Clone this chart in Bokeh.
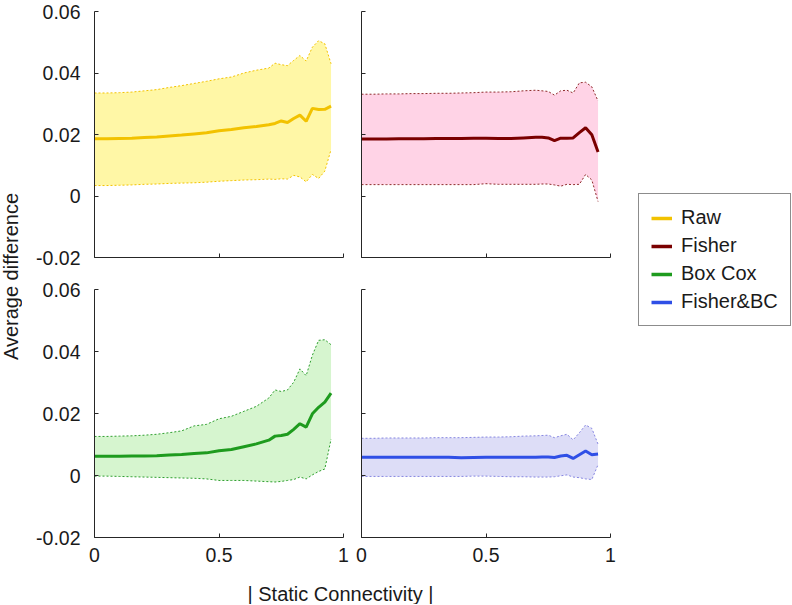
import math
from bokeh.plotting import figure
from bokeh.models import Range1d, FixedTicker, Label, Legend, LegendItem
from bokeh.layouts import row, column
from bokeh.embed import file_html
from bokeh.resources import INLINE

# ---------------- data ----------------
x = [0, 0.05, 0.1, 0.15, 0.2, 0.25, 0.3, 0.35, 0.4, 0.45, 0.5, 0.55, 0.6, 0.65,
     0.7, 0.725, 0.75, 0.775, 0.8, 0.825, 0.85, 0.875, 0.9, 0.925, 0.95]

raw_mean = [0.0186, 0.0186, 0.0187, 0.0188, 0.0190, 0.0192, 0.0195, 0.0198, 0.0202, 0.0206, 0.0212, 0.0216, 0.0222,
            0.0226, 0.0232, 0.0236, 0.0244, 0.0239, 0.0252, 0.0263, 0.0243, 0.0285, 0.0281, 0.0282, 0.0292]
raw_hi = [0.0335, 0.0335, 0.0336, 0.0338, 0.0342, 0.0346, 0.0353, 0.0359, 0.0366, 0.0373, 0.0381, 0.0387, 0.0400,
          0.0409, 0.0416, 0.0432, 0.0427, 0.0424, 0.0441, 0.0457, 0.0439, 0.0484, 0.0505, 0.0495, 0.0430]
raw_lo = [0.0034, 0.0034, 0.0035, 0.0036, 0.0038, 0.0039, 0.0041, 0.0042, 0.0043, 0.0045, 0.0048, 0.0050, 0.0052,
          0.0053, 0.0055, 0.0054, 0.0056, 0.0055, 0.0067, 0.0062, 0.0046, 0.0070, 0.0057, 0.0081, 0.0151]

fisher_mean = [0.0185, 0.0185, 0.0185, 0.0186, 0.0186, 0.0186, 0.0187, 0.0187, 0.0187, 0.0188, 0.0188, 0.0187, 0.0187,
               0.0189, 0.0191, 0.0191, 0.0189, 0.0180, 0.0188, 0.0188, 0.0189, 0.0206, 0.0222, 0.0199, 0.0143]
fisher_hi = [0.0331, 0.0331, 0.0332, 0.0332, 0.0333, 0.0333, 0.0334, 0.0334, 0.0335, 0.0336, 0.0338, 0.0338, 0.0339,
             0.0342, 0.0344, 0.0342, 0.0340, 0.0328, 0.0342, 0.0344, 0.0335, 0.0368, 0.0370, 0.0355, 0.0309]
fisher_lo = [0.0037, 0.0037, 0.0037, 0.0037, 0.0037, 0.0037, 0.0037, 0.0037, 0.0037, 0.0037, 0.0040, 0.0038, 0.0038,
             0.0038, 0.0038, 0.0039, 0.0039, 0.0036, 0.0032, 0.0038, 0.0037, 0.0038, 0.0070, 0.0052, -0.0018]

box_mean = [0.0062, 0.0062, 0.0062, 0.0063, 0.0063, 0.0064, 0.0066, 0.0068, 0.0071, 0.0073, 0.0080, 0.0084, 0.0093,
            0.0102, 0.0114, 0.0127, 0.0129, 0.0133, 0.0149, 0.0167, 0.0156, 0.0199, 0.0220, 0.0237, 0.0266]
box_hi = [0.0126, 0.0126, 0.0127, 0.0128, 0.0130, 0.0133, 0.0138, 0.0144, 0.0160, 0.0165, 0.0183, 0.0191, 0.0207,
          0.0223, 0.0250, 0.0276, 0.0271, 0.0276, 0.0301, 0.0344, 0.0322, 0.0388, 0.0436, 0.0438, 0.0422]
box_lo = [-0.0002, -0.0002, -0.0003, -0.0004, -0.0005, -0.0006, -0.0007, -0.0008, -0.0009, -0.0011, -0.0016, -0.0016,
          -0.0016, -0.0018, -0.0020, -0.0021, -0.0019, -0.0016, -0.0013, -0.0005, -0.0011, 0.0002, 0.0013, 0.0021, 0.0117]

fbc_mean = [0.0059, 0.0059, 0.0059, 0.0059, 0.0059, 0.0059, 0.0059, 0.0059, 0.0057, 0.0058, 0.0059, 0.0059, 0.0059,
            0.0059, 0.0059, 0.0060, 0.0060, 0.0058, 0.0063, 0.0065, 0.0055, 0.0067, 0.0079, 0.0067, 0.0069]
fbc_hi = [0.0120, 0.0120, 0.0121, 0.0121, 0.0121, 0.0121, 0.0122, 0.0122, 0.0122, 0.0123, 0.0124, 0.0124, 0.0125,
          0.0127, 0.0128, 0.0129, 0.0130, 0.0122, 0.0128, 0.0133, 0.0115, 0.0138, 0.0163, 0.0152, 0.0101]
fbc_lo = [-0.0003, -0.0003, -0.0003, -0.0003, -0.0003, -0.0003, -0.0003, -0.0003, -0.0003, -0.0002, -0.0002, -0.0003,
          -0.0004, -0.0004, -0.0005, -0.0005, -0.0005, -0.0004, -0.0001, 0.0002, -0.0005, -0.0007, -0.0011, -0.0013, 0.0035]

series_names = ["Raw", "Fisher", "Box Cox", "Fisher&BC"]
series_means = [raw_mean, fisher_mean, box_mean, fbc_mean]
x_ticks = [0.0, 0.5, 1.0]
x_tick_labels = ["0", "0.5", "1"]
y_ticks = [-0.02, 0.0, 0.02, 0.04, 0.06]
y_tick_labels = ["-0.02", "0", "0.02", "0.04", "0.06"]
x_title = "| Static Connectivity |"
y_title = "Average difference"

# ---------------- styles ----------------
FONT = "Liberation Sans"
AXIS_COLOR = "#262626"
TEXT_COLOR = "#1a1a1a"
line_colors = ["#F2C200", "#7A0000", "#1E9B1E", "#2F4FE6"]
fill_colors = ["#FFF7A6", "#FFD3E6", "#D6F5CF", "#DDDDF7"]
bound_colors = ["#F2C200", "#8E2A2A", "#2E9E2E", "#8585E0"]


def make_panel(mean, lo, hi, k, width, height, bl, br, bt, bb, show_x, show_y):
    p = figure(width=width, height=height, x_range=Range1d(0, 1), y_range=Range1d(-0.02, 0.06),
               output_backend="svg", toolbar_location=None,
               min_border_left=bl, min_border_right=br, min_border_top=bt, min_border_bottom=bb)
    p.varea(x=x, y1=lo, y2=hi, fill_color=fill_colors[k], fill_alpha=1.0)
    p.line(x, hi, line_color=bound_colors[k], line_width=1, line_dash="2 2")
    p.line(x, lo, line_color=bound_colors[k], line_width=1, line_dash="2 2")
    p.line(x, mean, line_color=line_colors[k], line_width=3)
    p.grid.visible = False
    p.outline_line_color = None
    p.background_fill_color = "white"
    p.border_fill_color = "white"
    for ax, ticks, labels, show, standoff in ((p.xaxis[0], x_ticks, x_tick_labels, show_x, 10),
                                              (p.yaxis[0], y_ticks, y_tick_labels, show_y, 14)):
        ax.ticker = FixedTicker(ticks=ticks)
        ax.axis_line_color = AXIS_COLOR
        ax.axis_line_width = 1
        ax.major_tick_line_color = AXIS_COLOR
        ax.major_tick_in = 4
        ax.major_tick_out = 0
        ax.minor_tick_line_color = None
        if show:
            ax.major_label_overrides = {float(t): s for t, s in zip(ticks, labels)}
            ax.major_label_text_font = FONT
            ax.major_label_text_font_size = "19.5px"
            ax.major_label_text_color = TEXT_COLOR
            ax.major_label_standoff = standoff
        else:
            ax.major_label_overrides = {float(t): "" for t in ticks}
            ax.major_label_text_font_size = "1px"
            ax.major_label_standoff = 0
    return p


FW = 249
TOP_B, FH1, B1 = 11, 246, 20
T2, FH2, B2 = 12, 248, 34
XLAB_H = 33
TOTAL_H = TOP_B + FH1 + B1 + T2 + FH2 + B2 + XLAB_H  # 604

p1 = make_panel(raw_mean, raw_lo, raw_hi, 0, 72 + FW + 9, TOP_B + FH1 + B1, 72, 9, TOP_B, B1, False, True)
p2 = make_panel(fisher_mean, fisher_lo, fisher_hi, 1, 9 + FW + 10, TOP_B + FH1 + B1, 9, 10, TOP_B, B1, False, False)
p3 = make_panel(box_mean, box_lo, box_hi, 2, 72 + FW + 9, T2 + FH2 + B2, 72, 9, T2, B2, True, True)
p4 = make_panel(fbc_mean, fbc_lo, fbc_hi, 3, 9 + FW + 10, T2 + FH2 + B2, 9, 10, T2, B2, True, False)


def blank(width, height, yr=(0, 1)):
    f = figure(width=width, height=height, x_range=Range1d(0, 1), y_range=Range1d(*yr),
               output_backend="svg", toolbar_location=None, x_axis_type=None, y_axis_type=None,
               min_border_left=0, min_border_right=0, min_border_top=0, min_border_bottom=0)
    f.grid.visible = False
    f.outline_line_color = None
    f.background_fill_color = "white"
    f.border_fill_color = "white"
    return f


ylab = blank(22, TOTAL_H)
ylab.add_layout(Label(x=10, y=TOTAL_H - 276, x_units="screen", y_units="screen", text=y_title,
                      angle=math.pi / 2, text_align="center", text_baseline="middle",
                      text_font=FONT, text_font_size="20px", text_color=TEXT_COLOR))

xlab = blank(330 + 268, XLAB_H)
xlab.add_layout(Label(x=340 - 22, y=XLAB_H - (593 - 571), x_units="screen", y_units="screen", text=x_title,
                      text_align="center", text_baseline="middle",
                      text_font=FONT, text_font_size="20px", text_color=TEXT_COLOR))

# legend figure: its y range is kept away from the data so only the legend shows
leg = blank(172, TOTAL_H, yr=(1, 2))
items = []
for k, name in enumerate(series_names):
    r = leg.line(x=x, y=series_means[k], line_color=line_colors[k], line_width=3.5)
    items.append(LegendItem(label=name, renderers=[r]))
legend = Legend(items=items, location=(18, TOTAL_H - 326), margin=0, padding=12, spacing=5,
                label_text_font=FONT, label_text_font_size="20px", label_text_color=TEXT_COLOR,
                glyph_width=21, glyph_height=20, label_height=20, label_standoff=9,
                border_line_color="#1a1a1a", border_line_width=1, background_fill_color="white",
                background_fill_alpha=1.0)
leg.add_layout(legend, "center")

layout = row(ylab, column(row(p1, p2), row(p3, p4), xlab), leg)

with open("out.html", "w") as fh:
    fh.write(file_html(layout, INLINE))
